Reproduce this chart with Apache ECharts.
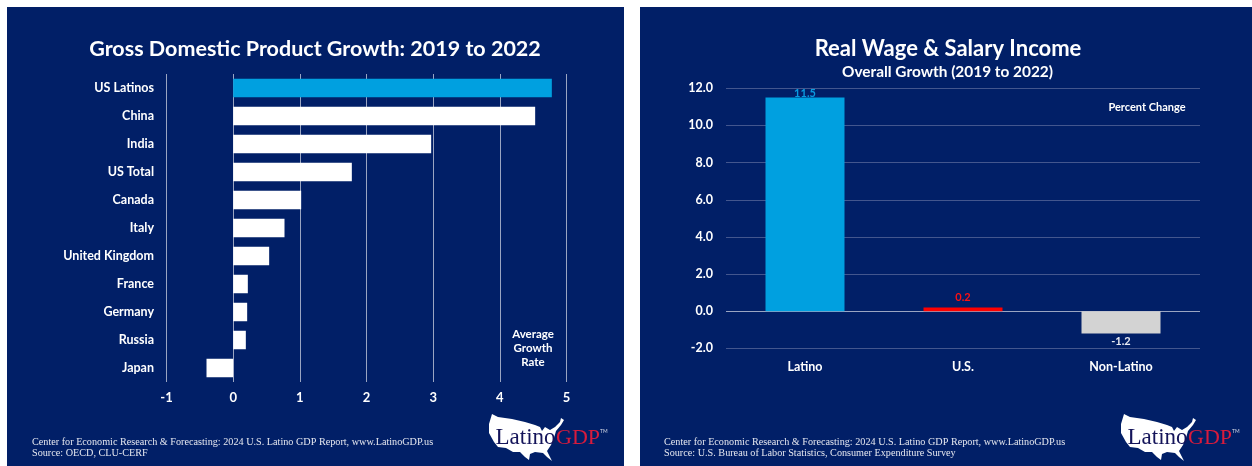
<!DOCTYPE html>
<html>
<head>
<meta charset="utf-8">
<style>html,body{margin:0;padding:0;background:#fff}#chart{width:1252px;height:466px}</style>
<script src="https://cdn.jsdelivr.net/npm/echarts@6/dist/echarts.min.js"></script>
</head>
<body>
<div id="chart"></div>
<script>
// GDP growth panel
const gdpCountries = ['US Latinos','China','India','US Total','Canada','Italy','United Kingdom','France','Germany','Russia','Japan'];
const gdpGrowth = [4.78,4.53,2.97,1.78,1.02,0.77,0.54,0.22,0.21,0.19,-0.4];
const gdpColors = ['#00A0E0','#fff','#fff','#fff','#fff','#fff','#fff','#fff','#fff','#fff','#fff'];

// Wage and salary income panel
const wageGroups = ['Latino','U.S.','Non-Latino'];
const wageChange = [11.5,0.2,-1.2];
const wageColors = ['#00A0E0','#FF0000','#D3D3D3'];
const wageLabelColors = ['#0A9BE0','#FF1010','#E8EAF2'];
const wagePositions = ['top','top','bottom'];
const wageLabelGaps = [-1,5,2];

const NAVY = '#011F67';
const SANS = 'Lato, "Open Sans", sans-serif';
const SERIF = '"Liberation Serif", serif';

// Outline of the contiguous US, used as the logo backdrop
const usOutline = [[0,0],[6,3],[20,5],[33,8],[43,11],[48,13],[50,17],[53,13],[58,16],[63,13],[68,8],[69,4],[72,6],[69,11],[64,17],[62,24],[59,31],[55,37],[58,43],[60,47],[55,43],[51,39],[43,38],[38,40],[37,46],[33,43],[28,38],[21,38],[14,34],[6,33],[2,28],[-3,19],[-3,10]];

function logo(x, y) {
  // x,y is the top-left corner of the outline
  return [
    {type:'polygon', shape:{points:usOutline.map(p => [x + p[0], y + p[1]])}, style:{fill:'#fff'}},
    {type:'text', style:{x:x+3.5, y:y+35, text:'Latino', font:'23px '+SERIF, fill:'#14145A', verticalAlign:'bottom'}},
    {type:'text', style:{x:x+64, y:y+35, text:'GDP', font:'22px '+SERIF, fill:'#D81B3C', verticalAlign:'bottom'}},
    {type:'text', style:{x:x+108, y:y+20, text:'TM', font:'5px '+SANS, fill:'#D5D8E5', verticalAlign:'bottom'}}
  ];
}

function footer(x, lines) {
  return lines.map((t, i) => ({
    type:'text',
    style:{x:x, y:437 + i*11, text:t, font:'10.2px '+SERIF, fill:'#E6E8F0'}
  }));
}

function note(cx, y, text, size) {
  return {type:'text', style:{x:cx, y:y, text:text, font:'bold '+size+'px '+SANS, fill:'#fff', align:'center', verticalAlign:'middle'}};
}

const chart = echarts.init(document.getElementById('chart'), null, {renderer:'canvas'});
chart.setOption({
  animation:false,
  backgroundColor:'#fff',
  title:[
    {text:'Gross Domestic Product Growth: 2019 to 2022', left:310, top:33, textAlign:'center',
     textStyle:{color:'#fff', fontFamily:SANS, fontWeight:'bold', fontSize:21.5}},
    {text:'Real Wage & Salary Income', left:943, top:33, textAlign:'center',
     textStyle:{color:'#fff', fontFamily:SANS, fontWeight:'bold', fontSize:22}},
    {text:'Overall Growth (2019 to 2022)', left:942.5, top:60, textAlign:'center',
     textStyle:{color:'#fff', fontFamily:SANS, fontWeight:'bold', fontSize:15.4}}
  ],
  grid:[
    {left:166.5, top:74, width:400, height:308},
    {left:726, top:88.3, width:474, height:260.1}
  ],
  xAxis:[
    {type:'value', gridIndex:0, min:-1, max:5, interval:1,
     axisLine:{show:false}, axisTick:{show:false},
     axisLabel:{color:'#fff', fontFamily:SANS, fontWeight:'bold', fontSize:13, margin:9},
     splitLine:{show:true, lineStyle:{color:'#9AA5C2', width:1}}},
    {type:'category', gridIndex:1, data:wageGroups,
     axisLine:{show:false, onZero:false}, axisTick:{show:false},
     axisLabel:{color:'#fff', fontFamily:SANS, fontWeight:'bold', fontSize:12.5, margin:12}}
  ],
  yAxis:[
    {type:'category', gridIndex:0, data:gdpCountries, inverse:true,
     axisLine:{show:false, onZero:false}, axisTick:{show:false},
     axisLabel:{color:'#fff', fontFamily:SANS, fontWeight:'bold', fontSize:12.5, margin:12.5}},
    {type:'value', gridIndex:1, min:-2, max:12, interval:2,
     axisLine:{show:false}, axisTick:{show:false},
     axisLabel:{color:'#fff', fontFamily:SANS, fontWeight:'bold', fontSize:12.5, margin:13, padding:[2,0,0,0],
                formatter:v => v.toFixed(1)},
     splitLine:{show:true, lineStyle:{color:'#43568E', width:1}}}
  ],
  series:[
    {type:'bar', xAxisIndex:0, yAxisIndex:0, barWidth:18.5,
     data:gdpGrowth.map((v,i) => ({value:v, itemStyle:{color:gdpColors[i]}}))},
    {type:'bar', xAxisIndex:1, yAxisIndex:1, barWidth:79,
     data:wageChange.map((v,i) => ({
       value:v,
       itemStyle:{color:wageColors[i]},
       label:{show:true, position:wagePositions[i], distance:wageLabelGaps[i], color:wageLabelColors[i],
              fontFamily:SANS, fontWeight:'bold', fontSize:11, formatter:'{c}'}
     })),
     markLine:{silent:true, symbol:'none', label:{show:false}, z:1,
       lineStyle:{color:'#9AA5C2', type:'solid', width:1},
       data:[{yAxis:0}]}}
  ],
  graphic:{elements:[
    {type:'group', silent:true, z:-10, children:[
      {type:'rect', shape:{x:7,y:7,width:617,height:459}, style:{fill:NAVY}},
      {type:'rect', shape:{x:640,y:7,width:612,height:459}, style:{fill:NAVY}}
    ]},
    {type:'group', silent:true, z:10, children:[
      note(533,334,'Average',11.5), note(533,348,'Growth',11.5), note(533,362,'Rate',11.5),
      note(1147,107,'Percent Change',11),
      ...footer(32,['Center for Economic Research & Forecasting: 2024 U.S. Latino GDP Report, www.LatinoGDP.us','Source: OECD, CLU-CERF']),
      ...footer(664,['Center for Economic Research & Forecasting: 2024 U.S. Latino GDP Report, www.LatinoGDP.us','Source: U.S. Bureau of Labor Statistics, Consumer Expenditure Survey']),
      ...logo(492,414),
      ...logo(1124,414)
    ]}
  ]}
});
</script>
</body>
</html>
